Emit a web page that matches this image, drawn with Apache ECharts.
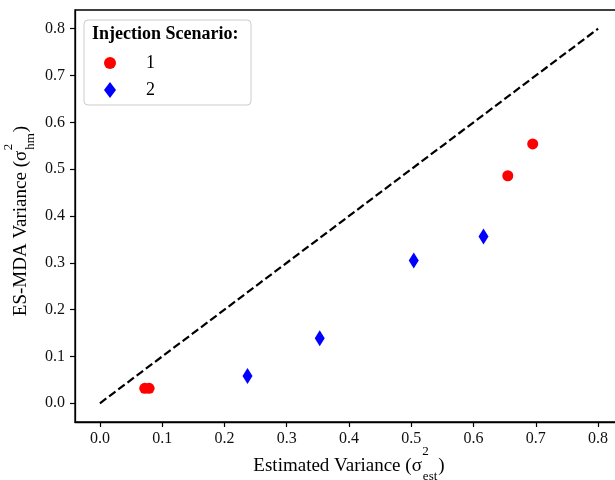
<!DOCTYPE html>
<html>
<head>
<meta charset="utf-8">
<script src="https://cdn.jsdelivr.net/npm/echarts@6/dist/echarts.min.js"></script>
<style>html,body{margin:0;padding:0;background:#fff}#chart{width:615px;height:480px}</style>
</head>
<body>
<div id="chart"></div>
<script>
const scenario1X = [0.072, 0.079, 0.655, 0.695];
const scenario1Y = [0.032, 0.032, 0.486, 0.554];
const scenario2X = [0.237, 0.353, 0.504, 0.616];
const scenario2Y = [0.058, 0.139, 0.305, 0.356];
const refLineX = [0, 0.8];
const refLineY = [0, 0.8];
const tickValues = [0, 0.1, 0.2, 0.3, 0.4, 0.5, 0.6, 0.7, 0.8];
const seriesNames = ['1', '2'];
const legendTitle = 'Injection Scenario:';
const xTitle = ['Estimated Variance (σ', '2', 'est', ')'];
const yTitle = ['ES-MDA Variance (σ', '2', 'hm', ')'];

const FONT = '"Liberation Serif", "Times New Roman", serif';
const zip = (a, b) => a.map((v, i) => [v, b[i]]);

const ctx = document.createElement('canvas').getContext('2d');
function measure(t, size, weight) {
  ctx.font = (weight || 'normal') + ' ' + size + 'px ' + FONT;
  return ctx.measureText(t).width;
}
function makeLabel(parts, cx, cy, rot, supOff, subOff) {
  const big = 19, small = 13;
  const wMain = measure(parts[0], big);
  const wStack = Math.max(measure(parts[1], small), measure(parts[2], small)) + 2;
  const wClose = measure(parts[3], big);
  const total = wMain + wStack + wClose;
  const x0 = -total / 2;
  const st = (text, size) => ({ text: text, fill: '#000', font: size + 'px ' + FONT, align: 'left', verticalAlign: 'middle' });
  return {
    type: 'group', x: cx, y: cy, rotation: rot, z: 100,
    children: [
      { type: 'text', x: x0, y: 0, style: st(parts[0], big) },
      { type: 'text', x: x0 + wMain + 0.5, y: supOff, style: st(parts[1], small) },
      { type: 'text', x: x0 + wMain + 1, y: subOff, style: st(parts[2], small) },
      { type: 'text', x: x0 + wMain + wStack, y: 0, style: st(parts[3], big) }
    ]
  };
}

const chart = echarts.init(document.getElementById('chart'), null, { renderer: 'canvas' });

const axisCommon = {
  type: 'value',
  min: -0.04,
  max: 0.84,
  splitLine: { show: false },
  axisLine: { show: true, onZero: false, lineStyle: { color: '#000', width: 1.3 } },
  axisTick: { show: true, inside: false, length: 5, customValues: tickValues, lineStyle: { color: '#000', width: 1.2 } },
  axisLabel: { customValues: tickValues, color: '#111', fontFamily: FONT, fontSize: 16, formatter: v => v.toFixed(1) }
};

chart.setOption({
  animation: false,
  backgroundColor: '#fff',
  grid: { left: 75, top: 10, width: 548, height: 412, outerBoundsMode: 'none', containLabel: false, show: true, borderColor: '#000', borderWidth: 1.3, backgroundColor: 'transparent' },
  xAxis: Object.assign({}, axisCommon, { axisLabel: Object.assign({}, axisCommon.axisLabel, { margin: 9 }) }),
  yAxis: Object.assign({}, axisCommon, { axisLabel: Object.assign({}, axisCommon.axisLabel, { margin: 10 }) }),
  legend: {
    data: seriesNames,
    orient: 'vertical',
    left: 84,
    top: 20,
    padding: [34, 96, 6, 20],
    itemWidth: 12,
    itemHeight: 16,
    itemGap: 9,
    backgroundColor: '#fff',
    borderColor: '#cccccc',
    borderWidth: 1,
    borderRadius: 4,
    textStyle: { fontFamily: FONT, fontSize: 18, color: '#000', padding: [0, 0, 0, 25] }
  },
  graphic: [
    { type: 'text', left: 92, top: 25, z: 100, style: { text: legendTitle, fill: '#000', font: 'bold 18px ' + FONT } },
    makeLabel(xTitle, 349, 466, 0, -14, 11),
    makeLabel(yTitle, 21, 221, Math.PI / 2, -12, 10)
  ],
  series: [
    {
      type: 'line',
      data: zip(refLineX, refLineY),
      symbol: 'none',
      lineStyle: { color: '#000', width: 2.2, type: [8, 3.5] },
      z: 1,
      silent: true
    },
    {
      name: seriesNames[0],
      type: 'scatter',
      data: zip(scenario1X, scenario1Y),
      symbol: 'circle',
      symbolSize: 11,
      itemStyle: { color: '#ff0000', opacity: 1 },
      z: 3
    },
    {
      name: seriesNames[1],
      type: 'scatter',
      data: zip(scenario2X, scenario2Y),
      symbol: 'diamond',
      symbolSize: [10, 16],
      itemStyle: { color: '#0000ff', opacity: 1 },
      z: 3
    }
  ]
});
</script>
</body>
</html>
